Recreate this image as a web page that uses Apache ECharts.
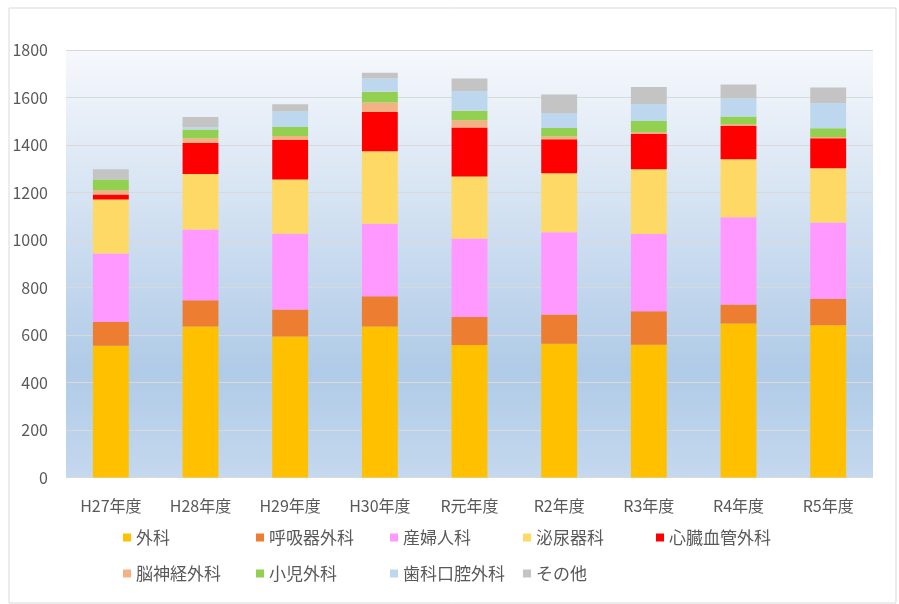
<!DOCTYPE html>
<html><head><meta charset="utf-8">
<script src="https://cdn.jsdelivr.net/npm/echarts@6/dist/echarts.min.js"></script>
<style>html,body{margin:0;padding:0;background:#fff}#c{width:899px;height:604px}</style>
</head><body><div id="c"></div>
<script>
const categories = ['H27年度','H28年度','H29年度','H30年度','R元年度','R2年度','R3年度','R4年度','R5年度'];
const seriesNames = ['外科','呼吸器外科','産婦人科','泌尿器科','心臓血管外科','脳神経外科','小児外科','歯科口腔外科','その他'];
const geka       = [555, 636, 594, 636, 558, 563, 559, 648, 641];
const kokyuki    = [100, 110, 113, 127, 118, 123, 141,  80, 112];
const sanfujin   = [288, 298, 319, 305, 330, 347, 325, 368, 321];
const hinyoki    = [228, 234, 229, 306, 261, 248, 273, 244, 228];
const shinzo     = [ 21, 130, 166, 165, 207, 143, 149, 140, 126];
const noshinkei  = [ 18,  20,  17,  40,  30,  12,   8,   8,   6];
const shoni      = [ 45,  37,  38,  45,  40,  36,  46,  32,  37];
const shika      = [  0,  10,  65,  56,  82,  62,  71,  76, 105];
const sonota     = [ 43,  43,  31,  24,  54,  79,  72,  59,  66];
const yTicks = [0, 200, 400, 600, 800, 1000, 1200, 1400, 1600, 1800];

const seriesData = [geka, kokyuki, sanfujin, hinyoki, shinzo, noshinkei, shoni, shika, sonota];
const colors = ['#FFC000','#ED7D31','#FF99FF','#FFD966','#FF0000','#F4B183','#92D050','#BDD7EE','#C4C4C4'];

const font = '"Noto Sans CJK JP", "Noto Sans", sans-serif';
const legendCols = [118, 251, 385, 518, 651];
const legendRows = [524, 560];
const legends = seriesNames.map((n, i) => ({
  data: [n],
  left: legendCols[i < 5 ? i : i - 5],
  top: legendRows[i < 5 ? 0 : 1],
  itemWidth: 8, itemHeight: 8, itemGap: 4,
  icon: 'rect',
  textStyle: {color: '#595959', fontSize: 17, fontFamily: font, padding: [0,0,0,0]},
  selectedMode: false
}));

const chart = echarts.init(document.getElementById('c'), null, {renderer: 'canvas'});
chart.setOption({
  animation: false,
  backgroundColor: '#fff',
  color: colors,
  graphic: [{
    type: 'rect', left: 6.5, top: 5.5,
    shape: {width: 887, height: 595},
    style: {fill: 'none', stroke: '#d9d9d9', lineWidth: 1}, silent: true
  }],
  grid: {
    left: 66, right: 26, top: 50, bottom: 126.5,
    show: true, borderWidth: 0,
    backgroundColor: new echarts.graphic.LinearGradient(0, 0, 0, 1, [
      {offset: 0, color: '#f6f8fc'},
      {offset: 0.75, color: '#b0cbe7'},
      {offset: 1, color: '#c4d8ee'}
    ])
  },
  legend: legends,
  xAxis: {
    type: 'category', data: categories,
    axisLine: {show: false}, axisTick: {show: false},
    axisLabel: {color: '#595959', fontSize: 16, fontFamily: font, margin: 20}
  },
  yAxis: {
    type: 'value', min: yTicks[0], max: yTicks[yTicks.length - 1], interval: yTicks[1] - yTicks[0],
    axisLine: {show: false}, axisTick: {show: false},
    axisLabel: {color: '#595959', fontSize: 16, fontFamily: font, margin: 18, formatter: v => String(v)},
    splitLine: {lineStyle: {color: '#d9d9d9', width: 1}}
  },
  series: seriesNames.map((n, i) => ({
    name: n, type: 'bar', stack: 'total', barWidth: '40%',
    data: seriesData[i],
    itemStyle: {color: colors[i]}
  }))
});
</script></body></html>
